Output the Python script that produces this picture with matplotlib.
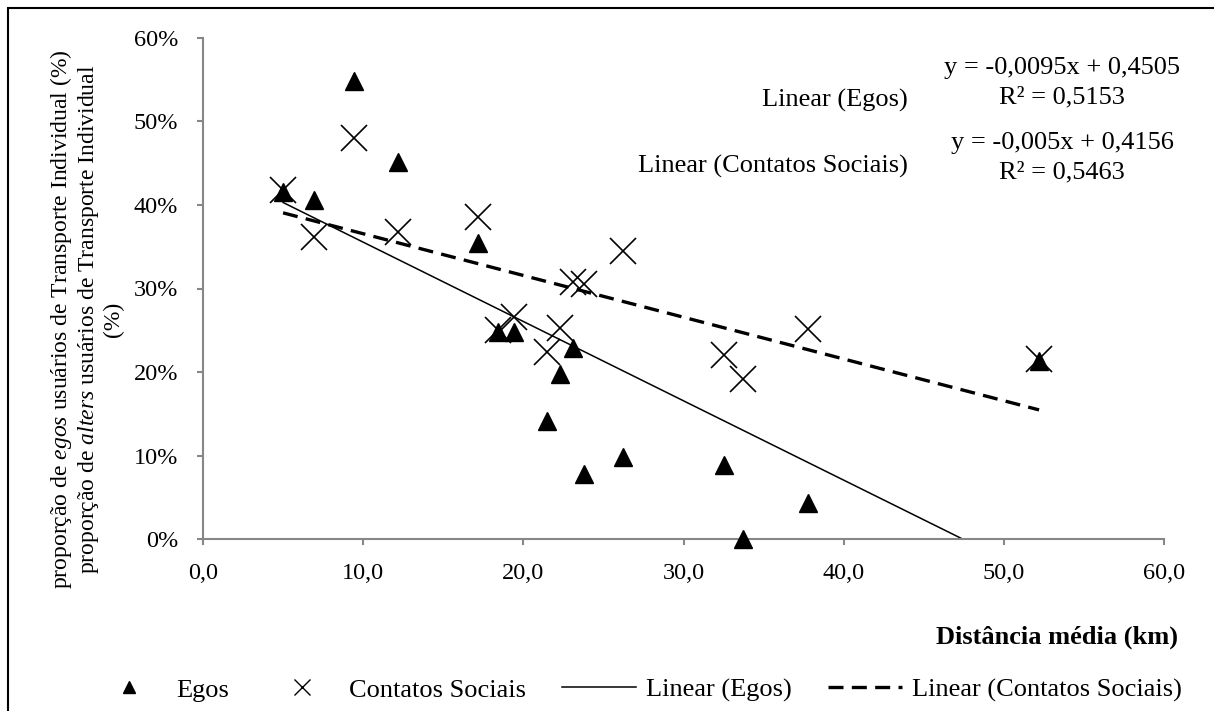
"""Proporção de usuários de transporte individual vs distância média."""

import matplotlib

matplotlib.use("Agg")
import matplotlib.pyplot as plt
import numpy as np
from matplotlib.lines import Line2D
from matplotlib.patches import Rectangle
from matplotlib.ticker import FuncFormatter, MultipleLocator, PercentFormatter

plt.rcParams["font.family"] = ["Liberation Serif", "DejaVu Serif"]
plt.rcParams["mathtext.fontset"] = "custom"
plt.rcParams["mathtext.rm"] = "Liberation Serif"
plt.rcParams["mathtext.it"] = "Liberation Serif:italic"

# distância média (km), shared by both series
distancia = [5.0, 6.9, 9.4, 12.2, 17.2, 18.4, 19.4, 21.5,
             22.3, 23.1, 23.8, 26.2, 32.5, 33.7, 37.8, 52.2]
prop_egos = [0.416, 0.406, 0.548, 0.452, 0.354, 0.248, 0.248, 0.141,
             0.198, 0.229, 0.078, 0.098, 0.089, 0.000, 0.043, 0.213]
prop_contatos = [0.418, 0.362, 0.480, 0.368, 0.386, 0.250, 0.266, 0.224,
                 0.253, 0.308, 0.305, 0.345, 0.220, 0.192, 0.252, 0.216]

# linear trendlines as reported on the chart
egos_slope, egos_intercept, egos_r2 = -0.0095, 0.4505, 0.5153
cont_slope, cont_intercept, cont_r2 = -0.005, 0.4156, 0.5463

axis_grey = "#878787"
big = 19
W, H = 1214, 711
fig = plt.figure(figsize=(W / 100, H / 100), dpi=100)
ax = fig.add_axes([203 / W, 1 - 539 / H, (1164 - 203) / W, (539 - 38) / H])

x = np.array(distancia)
xs = np.array([x.min(), x.max()])
ax.plot(x, prop_egos, linestyle="none", marker="^", ms=12.5, color="black",
        clip_on=False, zorder=3)
ax.plot(x, prop_contatos, linestyle="none", marker="x", ms=19, mew=1.2,
        color="black", clip_on=False, zorder=3)
ax.plot(xs, egos_slope * xs + egos_intercept, color="black", lw=1.1, zorder=2)
ax.plot(xs, cont_slope * xs + cont_intercept, color="black", lw=2.4,
        dashes=(4.5, 2.5), zorder=2)

ax.set_xlim(0, 60)
ax.set_ylim(0, 0.6)
ax.xaxis.set_major_locator(MultipleLocator(10))
ax.yaxis.set_major_locator(MultipleLocator(0.1))
ax.xaxis.set_major_formatter(FuncFormatter(lambda v, _: f"{v:.1f}".replace(".", ",")))
ax.yaxis.set_major_formatter(PercentFormatter(1.0, decimals=0))
for side in ("top", "right"):
    ax.spines[side].set_visible(False)
for side in ("left", "bottom"):
    ax.spines[side].set_color(axis_grey)
    ax.spines[side].set_linewidth(1.5)
ax.tick_params(axis="both", direction="out", color=axis_grey, width=1.5,
               length=4.5, labelsize=17.5)
ax.tick_params(axis="y", pad=13.5)
ax.tick_params(axis="x", pad=13)

# trendline equations
eq_x = 0.894
ax.text(eq_x, 0.940, f"y = {egos_slope:g}x + {egos_intercept:g}".replace(".", ","),
        transform=ax.transAxes, ha="center", va="center", fontsize=big)
ax.text(eq_x, 0.882, f"R² = {egos_r2:.4f}".replace(".", ","),
        transform=ax.transAxes, ha="center", va="center", fontsize=big)
ax.text(0.7336, 0.876, "Linear (Egos)", transform=ax.transAxes,
        ha="right", va="center", fontsize=big)
ax.text(eq_x, 0.790, f"y = {cont_slope:g}x + {cont_intercept:g}".replace(".", ","),
        transform=ax.transAxes, ha="center", va="center", fontsize=big)
ax.text(eq_x, 0.731, f"R² = {cont_r2:.4f}".replace(".", ","),
        transform=ax.transAxes, ha="center", va="center", fontsize=big)
ax.text(0.7336, 0.743, "Linear (Contatos Sociais)", transform=ax.transAxes,
        ha="right", va="center", fontsize=big)

fig.text(1178 / W, 1 - 637 / H, "Distância média (km)", ha="right", va="center",
         fontsize=big, fontweight="bold")
fig.text(86 / W, 1 - 319 / H,
         "proporção de $\\mathit{egos}$ usuários de Transporte Individual (%)\n"
         "proporção de $\\mathit{alters}$ usuários de Transporte Individual\n(%)",
         rotation=90, ha="center", va="center", fontsize=17, linespacing=1.12,
         multialignment="center")

handles = [
    Line2D([], [], linestyle="none", marker="^", ms=8.5, color="black"),
    Line2D([], [], linestyle="none", marker="x", ms=11.5, mew=1.0, color="black"),
    Line2D([], [], color="black", lw=1.1),
    Line2D([], [], color="black", lw=2.4, dashes=(4.5, 2.5)),
]
labels = ["Egos", "Contatos Sociais", "Linear (Egos)", "Linear (Contatos Sociais)"]
fig.legend(handles, labels, loc="center", bbox_to_anchor=(637 / W, 1 - 690 / H),
           ncol=4, frameon=False, fontsize=big, handlelength=2.8,
           columnspacing=1.35, handletextpad=0.4, borderpad=0, borderaxespad=0)

# outer frame (right and bottom edges fall outside the picture)
fig.patches.append(Rectangle((8 / W, -0.05), 1.0, 1 - 8 / H + 0.05,
                             transform=fig.transFigure, fill=False,
                             edgecolor="black", lw=1.5))

fig.savefig("out.png", dpi=100)
